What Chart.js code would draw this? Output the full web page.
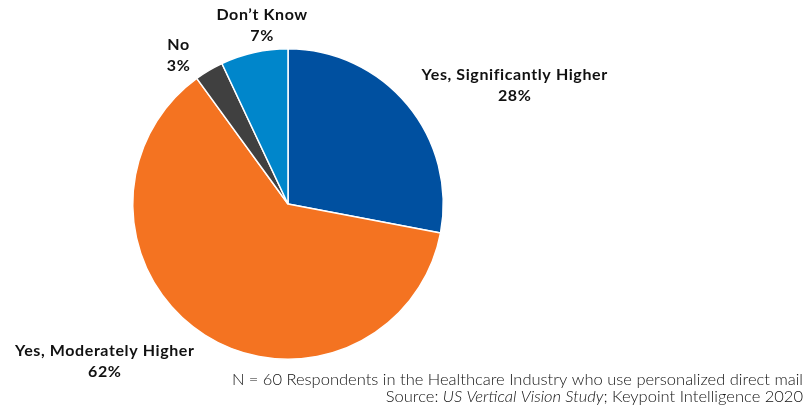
<!DOCTYPE html>
<html>
<head>
<meta charset="utf-8">
<script src="https://cdn.jsdelivr.net/npm/chart.js@4/dist/chart.umd.min.js"></script>
<style>
  html, body { margin: 0; padding: 0; background: #ffffff; }
  #wrap { width: 812px; height: 406px; position: relative; }
</style>
</head>
<body>
<div id="wrap"><canvas id="pie" width="812" height="406"></canvas></div>
<script>
// Survey answers, clockwise from 12 o'clock
const categories = ["Yes, Significantly Higher", "Yes, Moderately Higher", "No", "Don\u2019t Know"];
const shares = [28, 62, 3, 7];
const sliceColors = ["#0050a0", "#f47321", "#404040", "#0086cb"];

// Where each label block sits relative to the pie centre, in units of radius
const labelOffsets = [[1.46, -0.77], [-1.18, 1.01], [-0.705, -0.96], [-0.167, -1.154]];

const noteLine1 = "N = 60 Respondents in the Healthcare Industry who use personalized direct mail";
const noteLine2 = [
  { text: "Source: ", italic: false },
  { text: "US Vertical Vision Study", italic: true },
  { text: "; Keypoint Intelligence 2020", italic: false }
];

const sliceLabels = {
  id: "sliceLabels",
  afterDraw(chart) {
    const ctx = chart.ctx;
    const arcs = chart.getDatasetMeta(0).data;
    ctx.save();
    ctx.fillStyle = "#111111";
    ctx.textAlign = "center";
    ctx.textBaseline = "middle";
    ctx.font = "bold 16px 'Lato', 'DejaVu Sans', sans-serif";
    if ("letterSpacing" in ctx) ctx.letterSpacing = "0.6px";
    arcs.forEach((arc, i) => {
      const r = arc.outerRadius;
      const cx = arc.x + labelOffsets[i][0] * r;
      const cy = arc.y + labelOffsets[i][1] * r;
      ctx.fillText(categories[i], cx, cy - 10);
      ctx.fillText(shares[i] + "%", cx, cy + 11);
    });
    ctx.restore();
  }
};

const footnote = {
  id: "footnote",
  afterDraw(chart) {
    const ctx = chart.ctx;
    const right = chart.width - 9;
    ctx.save();
    ctx.fillStyle = "#111111";
    ctx.textBaseline = "middle";
    const base = "300 16.5px 'Lato', 'Liberation Sans', sans-serif";
    const ital = "italic 300 16.5px 'Lato', 'Liberation Sans', sans-serif";
    ctx.font = base;
    ctx.textAlign = "right";
    ctx.fillText(noteLine1, right, 380);
    let total = 0;
    noteLine2.forEach(p => { ctx.font = p.italic ? ital : base; total += ctx.measureText(p.text).width; });
    let x = right - total;
    ctx.textAlign = "left";
    noteLine2.forEach(p => {
      ctx.font = p.italic ? ital : base;
      ctx.fillText(p.text, x, 397);
      x += ctx.measureText(p.text).width;
    });
    ctx.restore();
  }
};

new Chart(document.getElementById("pie"), {
  type: "pie",
  data: {
    labels: categories,
    datasets: [{
      data: shares,
      backgroundColor: sliceColors,
      borderColor: "#ffffff",
      borderWidth: 1.5
    }]
  },
  options: {
    responsive: false,
    animation: false,
    layout: { padding: { left: 132, right: 368, top: 48, bottom: 46 } },
    plugins: {
      legend: { display: false },
      tooltip: { enabled: false }
    }
  },
  plugins: [sliceLabels, footnote]
});
</script>
</body>
</html>
